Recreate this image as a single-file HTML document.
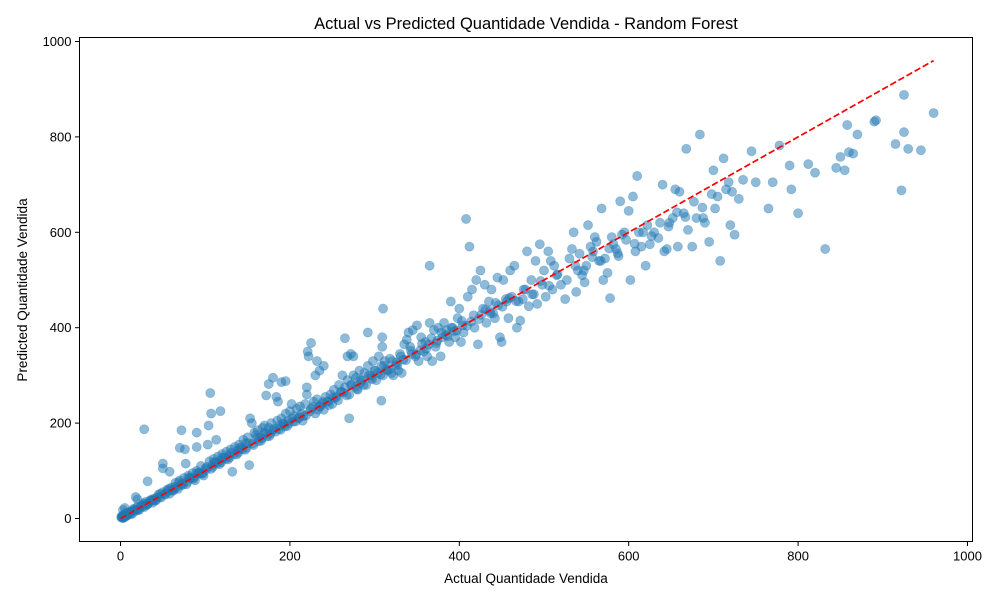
<!DOCTYPE html>
<html><head><meta charset="utf-8"><style>
html,body{margin:0;padding:0;background:#fff;}
svg{display:block;font-family:"Liberation Sans","DejaVu Sans",sans-serif;}
</style></head><body>
<svg id="chart" width="1000" height="600" viewBox="0 0 1000 600">
<rect x="0" y="0" width="1000" height="600" fill="#fff"/>
<text x="526" y="29" text-anchor="middle" font-size="16.5" fill="#000">Actual vs Predicted Quantidade Vendida - Random Forest</text>
<text x="526" y="583" text-anchor="middle" font-size="13.5" fill="#000">Actual Quantidade Vendida</text>
<text x="27" y="290" text-anchor="middle" font-size="13.5" fill="#000" transform="rotate(-90 27 290)">Predicted Quantidade Vendida</text>
<g id="points"></g>
<g id="axes"></g>
</svg>
<script>
const xTicks = [0, 200, 400, 600, 800, 1000];
const yTicks = [0, 200, 400, 600, 800, 1000];
const actual = [1,2,3,4,5,6,8,10,12,14,15,18,20,22,25,28,30,32,35,38,40,42,45,48,50,18,20,28,32,50,50,55,58,60,62,65,68,70,72,75,78,80,82,85,88,90,92,95,98,100,58,70,72,76,77,90,90,103,104,106,107,113,118,105,108,110,112,115,118,120,122,125,128,130,132,135,138,140,142,145,148,150,152,153,155,158,160,162,165,168,170,172,175,180,184,186,190,195,170,175,178,180,185,188,190,192,195,198,200,202,205,208,210,212,215,218,220,221,222,225,220,230,232,235,240,225,228,230,232,235,238,240,242,245,248,250,252,255,258,260,262,265,268,270,272,275,265,268,270,272,275,278,280,282,285,288,290,292,295,298,300,302,305,308,310,292,309,309,310,308,312,315,318,320,322,325,328,330,332,335,338,340,342,345,348,350,352,355,358,360,362,365,365,368,370,372,375,378,380,382,385,388,390,392,395,398,400,402,405,408,410,412,415,418,420,422,425,428,430,432,435,438,440,442,445,448,450,452,455,458,460,462,465,468,470,472,475,478,480,482,485,488,490,492,495,498,500,502,505,508,510,512,515,520,525,530,533,535,538,540,542,545,548,550,552,555,558,560,562,565,568,570,572,575,578,580,582,585,588,590,592,595,600,602,605,608,610,612,615,620,622,625,630,635,640,642,645,648,652,655,658,660,665,668,670,675,680,684,688,690,695,698,700,702,705,708,712,715,718,720,722,725,730,735,745,750,765,770,778,790,792,800,812,820,832,845,850,855,858,860,865,870,890,892,915,922,925,925,930,945,960,5,3,
2,4,6,7,9,11,13,16,19,23,26,29,33,36,39,43,46,52,56,61,64,67,73,79,83,87,93,96,101,109,114,119,124,129,134,139,144,149,156,163,167,173,177,183,187,194,199,204,211,216,224,236,244,253,263,277,284,296,304,314,326,334,344,354,364,374,384,394,404,414,426,436,446,456,
1,3,8,12,17,21,27,31,37,41,47,53,57,63,69,74,81,86,91,97,102,107,111,117,121,127,131,137,141,147,151,157,161,166,171,176,181,189,193,197,203,207,214,219,227,233,239,246,251,257,261,267,273,279,283,287,293,297,301,307,311,317,321,327,331,337,343,349,356,361,367,373,379,386,391,397,403,409,417,423,431,437,443,451,459,467,476,486,496,506,516,527,537,547,557,567,577,587,597,607,617,627,637,647,657,667,677,687];
const predicted = [2,5,1,8,3,12,6,10,15,10,20,16,25,18,28,24,35,30,38,33,42,38,50,44,55,45,40,187,78,115,105,60,52,65,58,75,62,80,70,85,72,90,85,95,80,100,95,110,90,105,98,148,185,145,115,150,180,155,195,263,220,165,225,120,112,125,118,130,122,135,128,140,132,145,98,150,142,155,148,165,158,170,112,210,200,180,175,185,170,190,180,258,282,295,255,245,286,288,195,190,200,185,205,195,210,200,220,205,225,240,215,230,210,235,205,240,275,350,340,368,260,300,330,310,320,230,245,220,250,235,240,228,255,245,260,240,270,255,280,265,300,378,340,210,345,340,275,290,260,280,300,295,270,310,290,305,280,320,300,330,310,290,340,320,300,390,380,360,440,247,330,310,335,305,300,320,310,345,305,365,375,390,360,395,340,405,330,380,350,370,340,410,530,330,395,360,400,340,380,410,395,370,455,400,380,420,440,370,390,628,465,570,480,400,500,365,520,440,490,410,455,480,430,420,505,380,370,500,460,420,520,465,530,400,455,415,460,480,560,445,500,470,540,450,575,490,520,465,560,540,480,530,510,490,460,545,565,600,475,520,555,510,495,530,615,570,560,590,580,540,650,500,545,515,462,590,575,565,550,665,595,600,645,500,675,560,718,600,570,530,615,575,600,588,700,560,565,620,630,690,570,685,640,775,605,570,630,805,630,620,580,680,730,650,675,540,755,690,705,615,685,595,670,710,770,705,650,705,782,740,690,640,743,725,565,735,758,730,825,768,765,805,832,835,785,688,810,888,775,772,850,22,18,
3,5,7,6,10,12,14,17,18,24,25,30,32,37,38,44,45,51,57,60,66,66,74,77,84,86,94,95,102,108,115,118,125,128,135,138,145,148,157,162,168,172,178,182,188,193,200,203,212,215,225,235,245,252,264,276,285,295,305,313,327,333,345,353,365,373,385,393,405,413,427,435,447,455,
4,1,11,9,20,18,32,28,40,38,52,50,62,60,76,71,86,83,96,94,108,104,118,114,128,124,138,134,148,144,158,154,168,163,178,173,188,186,198,194,210,204,220,216,234,228,244,238,254,248,266,258,280,272,290,280,300,292,310,302,320,312,330,322,340,332,352,344,366,356,378,368,390,382,400,394,414,404,426,418,438,430,452,444,462,456,480,470,498,488,512,500,530,520,548,540,566,556,584,576,600,592,620,612,642,632,664,652,684];

const L = 79.5, R = 972.5, T = 37.5, B = 541.5;
function xs(v){ return 120.5 + v * 0.847; }
function ys(v){ return 518.5 - v * 0.477; }
const NS = "http://www.w3.org/2000/svg";
const pg = document.getElementById('points');
const n = Math.min(actual.length, predicted.length);
for (let i = 0; i < n; i++) {
  const c = document.createElementNS(NS, 'circle');
  c.setAttribute('cx', xs(actual[i]));
  c.setAttribute('cy', ys(predicted[i]));
  c.setAttribute('r', 4.6);
  c.setAttribute('fill', '#1f77b4');
  c.setAttribute('fill-opacity', '0.5');
  c.setAttribute('stroke', '#1f77b4');
  c.setAttribute('stroke-opacity', '0.3');
  c.setAttribute('stroke-width', '0.8');
  
  
  pg.appendChild(c);
}
const line = document.createElementNS(NS, 'line');
line.setAttribute('x1', xs(0)); line.setAttribute('y1', ys(0));
line.setAttribute('x2', xs(960)); line.setAttribute('y2', ys(960));
line.setAttribute('stroke', '#ff0000'); line.setAttribute('stroke-width', '1.7');
line.setAttribute('stroke-dasharray', '6.5,2.8');


pg.appendChild(line);

const ax = document.getElementById('axes');
const frame = document.createElementNS(NS, 'rect');
frame.setAttribute('x', L); frame.setAttribute('y', T);
frame.setAttribute('width', R - L); frame.setAttribute('height', B - T);
frame.setAttribute('fill', 'none'); frame.setAttribute('stroke', '#000'); frame.setAttribute('stroke-width', '1');


ax.appendChild(frame);
xTicks.forEach(t => {
  const x = xs(t);
  const tk = document.createElementNS(NS, 'line');
  tk.setAttribute('x1', x); tk.setAttribute('x2', x); tk.setAttribute('y1', B); tk.setAttribute('y2', B + 4.5);
  tk.setAttribute('stroke', '#000');
  
  
  ax.appendChild(tk);
  const lb = document.createElementNS(NS, 'text');
  lb.setAttribute('x', x); lb.setAttribute('y', B + 19);
  lb.setAttribute('text-anchor', 'middle'); lb.setAttribute('font-size', '13');
  lb.textContent = t;
  
  
  ax.appendChild(lb);
});
yTicks.forEach(t => {
  const y = ys(t);
  const tk = document.createElementNS(NS, 'line');
  tk.setAttribute('x1', L - 4.5); tk.setAttribute('x2', L); tk.setAttribute('y1', y); tk.setAttribute('y2', y);
  tk.setAttribute('stroke', '#000');
  
  
  ax.appendChild(tk);
  const lb = document.createElementNS(NS, 'text');
  lb.setAttribute('x', L - 8); lb.setAttribute('y', y + 4.5);
  lb.setAttribute('text-anchor', 'end'); lb.setAttribute('font-size', '13');
  lb.textContent = t;
  
  
  ax.appendChild(lb);
});
</script>
</body></html>
